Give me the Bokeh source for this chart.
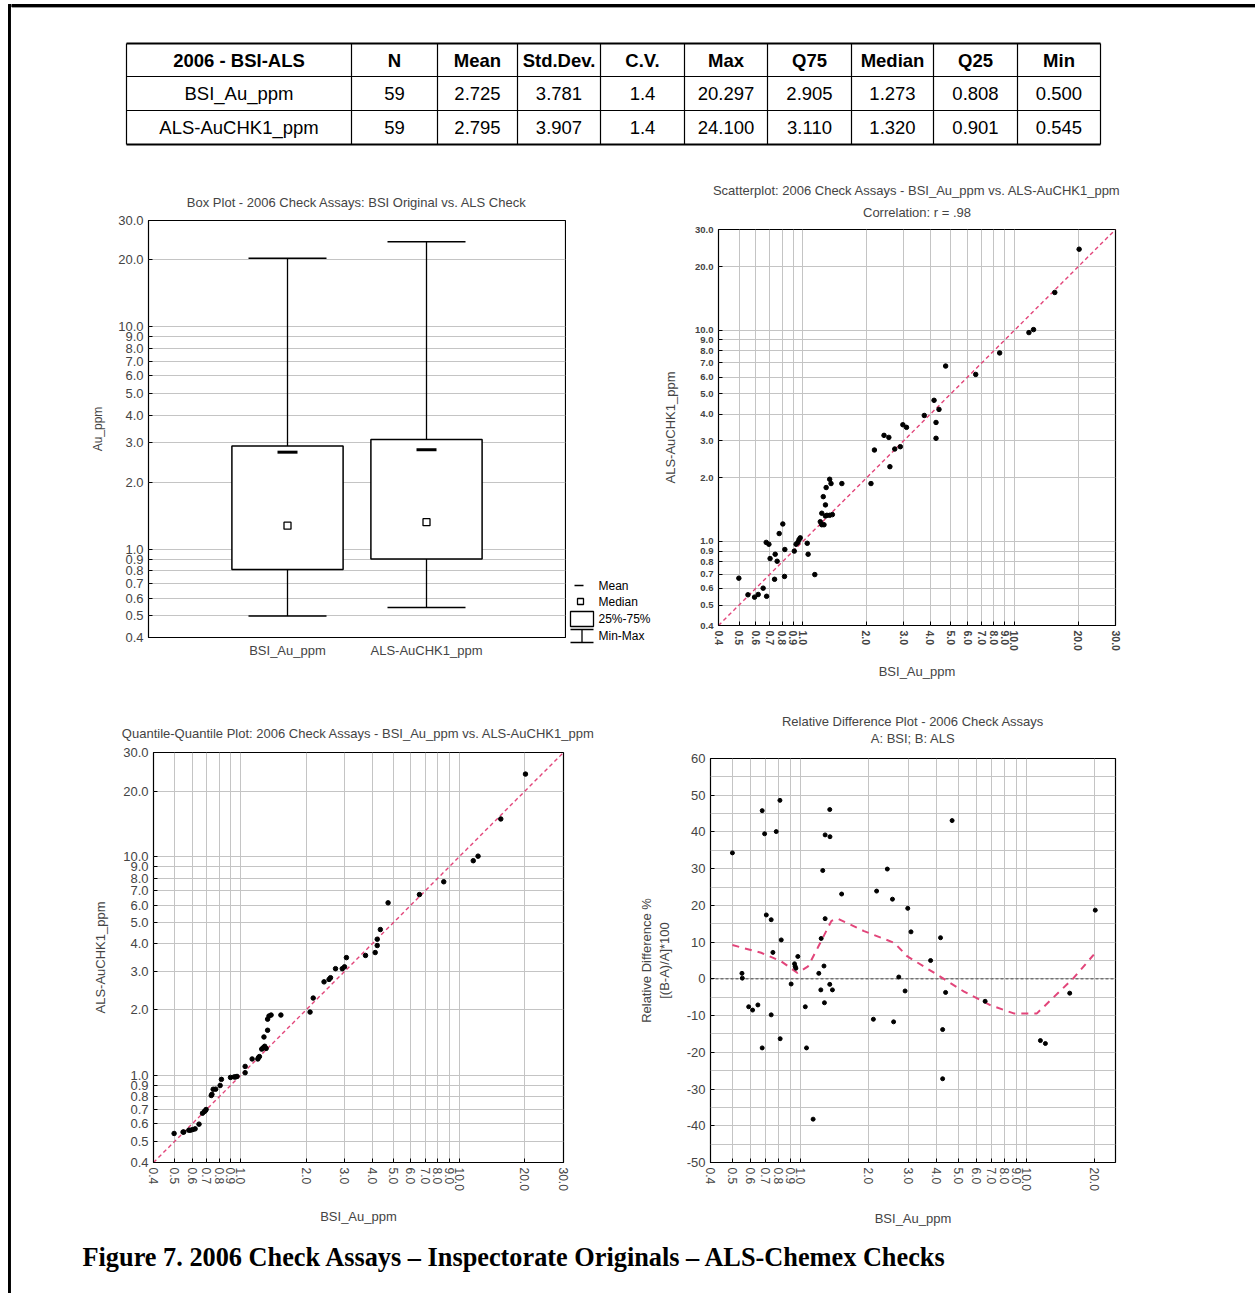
import numpy as np
from bokeh.plotting import figure
from bokeh.layouts import row, column
from bokeh.models import Range1d, FixedTicker, PrintfTickFormatter, Title
from bokeh.core.properties import value
from bokeh.embed import file_html
from bokeh.resources import INLINE

FONT = "Liberation Sans"
SERIF = "Liberation Serif"
GRID = "#c4c4c4"
PINK = "#e2457a"

# ---------------- data ----------------
table_header = ["2006 - BSI-ALS", "N", "Mean", "Std.Dev.", "C.V.", "Max", "Q75", "Median", "Q25", "Min"]
table_rows = ["BSI_Au_ppm", "ALS-AuCHK1_ppm"]
stat_n = ["59", "59"]
stat_mean = ["2.725", "2.795"]
stat_std = ["3.781", "3.907"]
stat_cv = ["1.4", "1.4"]
stat_max = ["20.297", "24.100"]
stat_q75 = ["2.905", "3.110"]
stat_median = ["1.273", "1.320"]
stat_q25 = ["0.808", "0.901"]
stat_min = ["0.500", "0.545"]

box_categories = ["BSI_Au_ppm", "ALS-AuCHK1_ppm"]
box_mean = [2.725, 2.795]
box_median = [1.273, 1.320]
box_q25 = [0.808, 0.901]
box_q75 = [2.905, 3.110]
box_min = [0.500, 0.545]
box_max = [20.297, 24.100]

log_ticks = [0.4, 0.5, 0.6, 0.7, 0.8, 0.9, 1, 2, 3, 4, 5, 6, 7, 8, 9, 10, 20, 30]
rd_x_ticks = [0.4, 0.5, 0.6, 0.7, 0.8, 0.9, 1, 2, 3, 4, 5, 6, 7, 8, 9, 10, 20]

# scatterplot: BSI (x) vs ALS (y)
sc_bsi = [20.2, 15.5, 11.7, 12.3, 8.51, 6.56, 4.73, 4.17, 4.40, 3.75, 4.26, 4.26, 2.97, 3.09, 2.42,
          2.55, 2.89, 2.72, 2.18, 2.58, 2.10, 1.53, 1.34, 1.36, 1.29, 1.25, 1.28, 1.23, 1.28, 1.34,
          1.38, 1.21, 1.23, 1.26, 0.805, 0.774, 0.672, 0.692, 0.973, 0.96, 0.948, 0.93, 1.05, 0.912,
          1.06, 0.823, 0.741, 0.701, 0.757, 1.14, 0.82, 0.736, 0.499, 0.650, 0.551, 0.616, 0.592,
          0.675, 1.30]
sc_als = [24.2, 15.1, 9.75, 10.07, 7.81, 6.18, 6.77, 4.66, 4.22, 3.95, 3.66, 3.08, 3.57, 3.47, 3.18,
          3.11, 2.81, 2.74, 2.71, 2.26, 1.88, 1.88, 1.97, 1.88, 1.80, 1.63, 1.49, 1.36, 1.32, 1.33,
          1.34, 1.24, 1.20, 1.20, 1.21, 1.09, 0.99, 0.97, 1.04, 1.02, 0.99, 0.97, 0.98, 0.90,
          0.87, 0.916, 0.87, 0.830, 0.806, 0.697, 0.683, 0.662, 0.67, 0.601, 0.559, 0.561, 0.545,
          0.55, 1.33]

# quantile-quantile plot
qq_bsi = [20.1, 15.5, 12.2, 11.6, 8.5, 6.58, 4.73, 4.36, 4.22, 4.22, 4.13, 3.73, 3.05, 2.99, 2.92,
          2.72, 2.58, 2.54, 2.41, 2.15, 2.08, 1.53, 1.38, 1.35, 1.33, 1.33, 1.28, 1.27, 1.25, 1.21,
          1.20, 1.13, 1.05, 1.05, 0.964, 0.935, 0.90, 0.818, 0.807, 0.77, 0.75, 0.74, 0.735, 0.696,
          0.684, 0.67, 0.646, 0.605, 0.58, 0.546, 0.497, 1.22, 1.29, 0.95, 0.69, 0.59, 0.55, 0.62, 1.31]
qq_als = [23.9, 14.9, 10.07, 9.6, 7.69, 6.72, 6.16, 4.65, 4.20, 3.93, 3.65, 3.54, 3.46, 3.14, 3.08,
          3.08, 2.80, 2.75, 2.68, 2.26, 1.95, 1.89, 1.89, 1.87, 1.81, 1.61, 1.50, 1.34, 1.32, 1.21,
          1.19, 1.19, 1.10, 1.03, 0.99, 0.985, 0.98, 0.96, 0.90, 0.866, 0.865, 0.82, 0.81, 0.699,
          0.685, 0.672, 0.599, 0.566, 0.562, 0.551, 0.543, 1.22, 1.36, 0.985, 0.69, 0.562, 0.551, 0.57, 1.33]

# relative difference plot
rd_bsi = [0.50, 0.551, 0.553, 0.590, 0.614, 0.648, 0.677, 0.694, 0.706, 0.742, 0.755, 0.742, 0.677,
          0.781, 0.811, 0.822, 0.813, 0.909, 0.941, 0.947, 0.954, 0.973, 1.05, 1.063, 1.137, 1.205,
          1.23, 1.234, 1.254, 1.27, 1.276, 1.285, 1.285, 1.347, 1.35, 1.347, 1.384, 1.52, 2.10, 2.17,
          2.42, 2.55, 2.58, 2.72, 2.90, 2.98, 3.08, 3.76, 4.16, 4.25, 4.25, 4.38, 4.68, 6.55, 11.5,
          12.1, 15.5, 20.1]
rd_pct = [34.3, 1.5, 0.2, -7.6, -8.5, -7.1, 45.8, 39.5, 17.4, 16.1, 7.2, -9.8, -18.8, 40.1, 48.6,
          10.6, -16.3, -1.4, 4.1, 3.4, 2.9, 6.1, -7.6, -18.8, -38.2, 1.5, -3.0, 11.0, 29.5, 3.5, -6.5,
          39.2, 16.4, 46.1, 38.7, -1.5, -3.0, 23.1, -11.0, 23.9, 29.9, 21.7, -11.7, 0.5, -3.3, 19.2,
          12.8, 5.0, 11.2, -13.8, -27.2, -3.7, 43.1, -6.1, -16.8, -17.6, -3.9, 18.7]
rd_fit_x = [0.50, 0.67, 0.82, 0.97, 1.08, 1.19, 1.37, 1.46, 1.91, 2.60, 2.97, 4.03, 5.29, 6.93,
            8.77, 11.1, 16.1, 19.8]
rd_fit_y = [9.2, 7.1, 4.8, 1.6, 3.4, 8.4, 15.8, 16.4, 13.0, 9.8, 6.1, 1.1, -3.5, -7.2, -9.4,
            -9.4, 0.2, 6.6]

caption = "Figure 7. 2006 Check Assays \u2013 Inspectorate Originals \u2013 ALS-Chemex Checks"


# ---------------- helpers ----------------
def blank(width, height, x0, x1, y0, y1):
    p = figure(width=width, height=height, x_range=Range1d(x0, x1), y_range=Range1d(y1, y0),
               output_backend="svg", toolbar_location=None, min_border=0, frame_align=False)
    p.axis.visible = False
    p.grid.visible = False
    p.outline_line_color = None
    return p


def style_plot(p, title_size="13px"):
    p.outline_line_color = "black"
    p.outline_line_width = 1.2
    p.title.text_font = FONT
    p.title.text_font_size = title_size
    p.title.text_font_style = "normal"
    p.title.align = "center"
    p.grid.grid_line_color = GRID
    p.axis.axis_line_color = None
    p.axis.major_tick_out = 0
    p.axis.major_tick_in = 4
    p.axis.minor_tick_out = 0
    p.axis.minor_tick_in = 0
    p.axis.major_label_text_font = FONT
    p.axis.axis_label_text_font = FONT
    p.axis.axis_label_text_font_style = "normal"
    p.axis.axis_label_text_font_size = "13px"
    p.background_fill_color = "white"


def log_axis(ax, ticks, size, bold=False, vertical=False):
    ax.ticker = FixedTicker(ticks=ticks)
    ax.formatter = PrintfTickFormatter(format="%.1f")
    ax.major_label_text_font_size = size
    if bold:
        ax.major_label_text_font_style = "bold"
    if vertical:
        ax.major_label_orientation = "vertical"


# ---------------- page border + table ----------------
border = blank(11, 1293, 0, 11, 0, 1293)
border.quad(left=[8], right=[10.4], top=[4], bottom=[1293], color="black")
border.quad(left=[8], right=[11], top=[4], bottom=[6.4], color="black")

tab = blank(1244, 170, 11, 1255, 0, 170)
tab.quad(left=[11], right=[1255], top=[4], bottom=[6.4], color="black")
col_edges = [126, 351, 437, 517, 600, 684, 767, 851, 933, 1017, 1100]
row_edges = [43, 76, 110, 144]
tab.segment(x0=[col_edges[0]] * 4, x1=[col_edges[-1]] * 4, y0=row_edges, y1=row_edges,
            line_color="black", line_width=[2, 1.2, 1.2, 2])
tab.segment(x0=col_edges, x1=col_edges, y0=[row_edges[0]] * len(col_edges),
            y1=[row_edges[-1]] * len(col_edges), line_color="black", line_width=1.2)
centers = [(a + b) / 2 for a, b in zip(col_edges[:-1], col_edges[1:])]
row_mid = [(a + b) / 2 for a, b in zip(row_edges[:-1], row_edges[1:])]
tab.text(x=centers, y=[row_mid[0]] * len(centers), text=table_header,
         text_font=value(FONT), text_font_size="18.5px", text_font_style="bold",
         text_align="center", text_baseline="middle", text_color="black")
cols = [table_rows, stat_n, stat_mean, stat_std, stat_cv, stat_max, stat_q75, stat_median, stat_q25, stat_min]
for r in range(2):
    tab.text(x=centers, y=[row_mid[r + 1]] * len(centers), text=[c[r] for c in cols],
             text_font=value(FONT), text_font_size="18.5px",
             text_align="center", text_baseline="middle", text_color="black")

# ---------------- box plot ----------------
bx = figure(width=555, height=520, y_axis_type="log", x_range=Range1d(0, 3), y_range=Range1d(0.4, 30),
            output_backend="svg", toolbar_location=None, frame_align=False,
            min_border_left=137, min_border_right=1, min_border_top=50, min_border_bottom=53,
            title="Box Plot - 2006 Check Assays: BSI Original vs. ALS Check")
style_plot(bx)
bx.title.offset = -18
bx.title.standoff = 21
log_axis(bx.yaxis[0], log_ticks, "13px")
bx.xgrid.visible = False
bx.xaxis.ticker = FixedTicker(ticks=[1, 2])
bx.xaxis.major_label_overrides = {1: box_categories[0], 2: box_categories[1]}
bx.xaxis.major_label_text_font_size = "13px"
bx.xaxis.major_tick_in = 0
bx.yaxis.axis_label = "Au_ppm"
bx.yaxis.axis_label_text_font_size = "12px"
bx.yaxis.axis_label_standoff = 10
cat_x = [1, 2]
bx.segment(x0=cat_x, x1=cat_x, y0=box_q75, y1=box_max, line_color="black", line_width=1.3)
bx.segment(x0=cat_x, x1=cat_x, y0=box_min, y1=box_q25, line_color="black", line_width=1.3)
bx.scatter(x=cat_x, y=box_max, marker="dash", size=78, line_color="black", line_width=1.5)
bx.scatter(x=cat_x, y=box_min, marker="dash", size=78, line_color="black", line_width=1.5)
bx.vbar(x=cat_x, width=0.8, bottom=box_q25, top=box_q75, fill_color="white",
        line_color="black", line_width=1.5)
bx.scatter(x=cat_x, y=box_mean, marker="dash", size=20, line_color="black", line_width=3)
bx.scatter(x=cat_x, y=box_median, marker="square", size=7, fill_color="white",
           line_color="black", line_width=1.3)

# legend (drawn in its own panel, page coordinates)
lg = blank(94, 520, 566, 660, 170, 690)
lg.segment(x0=[574], x1=[583], y0=[585], y1=[585], line_color="black", line_width=1.3)
lg.rect(x=[580], y=[601], width=6, height=6, fill_color="white", line_color="black", line_width=1.3)
lg.quad(left=[570], right=[593], top=[611], bottom=[626], fill_color="white", line_color="black",
        line_width=1.3)
lg.segment(x0=[570, 570, 581.5], x1=[593, 593, 581.5], y0=[629, 642, 629], y1=[629, 642, 642],
           line_color="black", line_width=1.3)
lg.text(x=[598] * 4, y=[585, 601, 618, 635], text=["Mean", "Median", "25%-75%", "Min-Max"],
        text_font=value(FONT), text_font_size="12px", text_baseline="middle", text_color="black")

# ---------------- scatterplot ----------------
sc = figure(width=595, height=520, x_axis_type="log", y_axis_type="log",
            x_range=Range1d(0.4, 30), y_range=Range1d(0.4, 30),
            output_backend="svg", toolbar_location=None, frame_align=False,
            min_border_left=58, min_border_right=140, min_border_top=59, min_border_bottom=65,
            title="Scatterplot: 2006 Check Assays - BSI_Au_ppm vs. ALS-AuCHK1_ppm")
style_plot(sc)
sc.title.offset = -23
sc.title.standoff = -8
sub = Title(text="Correlation: r = .98", align="center", offset=-23, text_font=FONT,
            text_font_size="13px", text_font_style="normal", standoff=19)
sc.add_layout(sub, "above")
log_axis(sc.xaxis[0], log_ticks, "10.5px", bold=True, vertical=True)
log_axis(sc.yaxis[0], log_ticks, "9.5px", bold=True)
sc.xaxis.axis_label = "BSI_Au_ppm"
sc.yaxis.axis_label = "ALS-AuCHK1_ppm"
sc.xaxis.axis_label_standoff = 10
sc.yaxis.axis_label_standoff = 14
sc.line(x=[0.4, 30], y=[0.4, 30], line_color=PINK, line_width=1.4, line_dash="4 3")
sc.scatter(x=sc_bsi, y=sc_als, size=4.5, color="black")

# ---------------- Q-Q plot ----------------
qq = figure(width=614, height=540, x_axis_type="log", y_axis_type="log",
            x_range=Range1d(0.4, 30), y_range=Range1d(0.4, 30),
            output_backend="svg", toolbar_location=None, frame_align=False,
            min_border_left=142, min_border_right=62, min_border_top=62, min_border_bottom=68,
            title="Quantile-Quantile Plot: 2006 Check Assays - BSI_Au_ppm vs. ALS-AuCHK1_ppm")
style_plot(qq)
qq.title.standoff = 23
log_axis(qq.xaxis[0], log_ticks, "12px", vertical=True)
log_axis(qq.yaxis[0], log_ticks, "13px")
qq.xaxis.axis_label = "BSI_Au_ppm"
qq.yaxis.axis_label = "ALS-AuCHK1_ppm"
qq.yaxis.axis_label_standoff = 12
qq.xaxis.axis_label_standoff = 15
qq.line(x=[0.4, 30], y=[0.4, 30], line_color=PINK, line_width=1.4, line_dash="4 3")
qq.scatter(x=qq_bsi, y=qq_als, size=4.5, color="black")

# ---------------- relative difference plot ----------------
rd = figure(width=630, height=540, x_axis_type="log",
            x_range=Range1d(0.4, 24.7), y_range=Range1d(-50, 60),
            output_backend="svg", toolbar_location=None, frame_align=False,
            min_border_left=85, min_border_right=140, min_border_top=68, min_border_bottom=68,
            title="Relative Difference Plot - 2006 Check Assays")
style_plot(rd)
rd.title.standoff = -24
sub2 = Title(text="A: BSI; B: ALS", align="center", text_font=FONT,
             text_font_size="13px", text_font_style="normal", standoff=25)
rd.add_layout(sub2, "above")
log_axis(rd.xaxis[0], rd_x_ticks, "12px", vertical=True)
rd.yaxis.ticker = FixedTicker(ticks=list(range(-50, 61, 10)), minor_ticks=list(range(-45, 60, 10)))
rd.yaxis.formatter = PrintfTickFormatter(format="%d")
rd.yaxis.major_label_text_font_size = "13px"
rd.ygrid.minor_grid_line_color = GRID
rd.xaxis.axis_label = "BSI_Au_ppm"
rd.yaxis.axis_label = "Relative Difference %\n[(B-A)/A]*100"
rd.yaxis.axis_label_standoff = 12
rd.xaxis.axis_label_standoff = 17
rd.line(x=[0.4, 24.7], y=[0, 0], line_color="#444444", line_width=1, line_dash="3 2")
rd.line(x=rd_fit_x, y=rd_fit_y, line_color=PINK, line_width=2, line_dash="7 6")
rd.scatter(x=rd_bsi, y=rd_pct, size=4, color="black")

# ---------------- caption ----------------
cap = blank(1244, 63, 11, 1255, 1230, 1293)
cap.text(x=[82], y=[1257], text=[caption], text_font=value(SERIF), text_font_size="26.3px",
         text_font_style="bold", text_baseline="middle", text_color="black")

layout = row(border,
             column(tab,
                    row(bx, lg, sc),
                    row(qq, rd),
                    cap))

open("out.html", "w").write(file_html(layout, INLINE))
